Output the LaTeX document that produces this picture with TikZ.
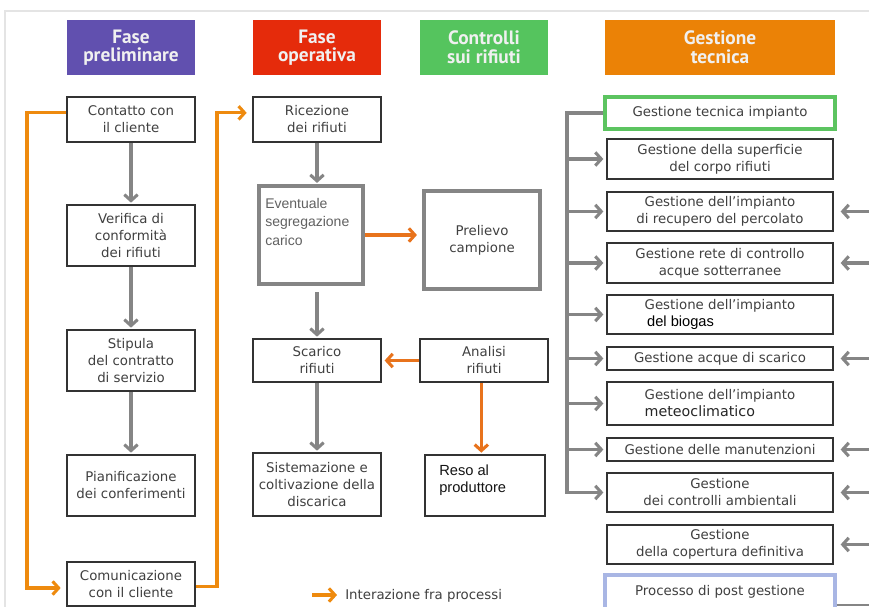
\documentclass[tikz,border=0pt]{standalone}
\usepackage{fontspec}
\setmainfont{DejaVu Sans}
\newfontfamily\hdfont{PT Sans}
\newfontfamily\arialfont{Liberation Sans}
\usetikzlibrary{arrows.meta,calc}
\definecolor{cpurple}{HTML}{6150AF}
\definecolor{cred}{HTML}{E52B0B}
\definecolor{cgreen}{HTML}{55C45E}
\definecolor{corange}{HTML}{EB8206}
\definecolor{oline}{HTML}{EE8A0E}
\definecolor{oline2}{HTML}{E8731C}
\definecolor{gline}{HTML}{858585}
\definecolor{bborder}{HTML}{333333}
\definecolor{btext}{HTML}{404040}
\definecolor{gboxc}{HTML}{5CC460}
\definecolor{pboxc}{HTML}{A9B6E4}
\definecolor{framec}{HTML}{E4E4E4}
\begin{document}
\begin{tikzpicture}[x=0.75pt,y=-0.75pt,
  rect/.style n args={4}{minimum width={(#3-#1)*0.75pt}, minimum height={(#4-#2)*0.75pt}, at={({(#1+#3)/2},{(#2+#4)/2})}},
  hdr/.style={fill=#1, draw=none, text=white!94!black, font=\hdfont\bfseries\fontsize{14.5}{14}\selectfont, align=center, inner sep=0pt},
  box/.style={draw=bborder, line width=1.5pt, fill=white, text=btext, font=\fontsize{10}{12.75}\selectfont, align=center, inner sep=0pt},
  graybox/.style={draw=gline, line width=2.6pt, fill=white, text=btext, font=\fontsize{10}{12.75}\selectfont, align=center, inner sep=0pt},
  garrow/.style={draw=gline, line width=2.3pt, line join=miter, -{Straight Barb[length=4.5pt,width=10pt]}},
  oarrow/.style={draw=oline, line width=2.3pt, line join=miter, -{Straight Barb[length=4.5pt,width=10pt]}},
  oarrowb/.style={draw=oline2, line width=2.3pt, -{Straight Barb[length=4.5pt,width=10pt]}},
  arialtxt/.style={font=\arialfont\fontsize{11}{12.5}\selectfont}
]
\useasboundingbox (0,0) rectangle (869,607);
\clip (0,0) rectangle (869,607);
\fill[white] (0,0) rectangle (869,607);
\draw[framec, line width=0.9pt] (5,607) -- (5,11) -- (869,11);

% headers
\node[hdr=cpurple, rect={67}{20}{195}{75}] (h1) {Fase\\preliminare};
\node[hdr=cred, rect={253}{20}{381}{75}] (h2) {Fase\\operativa};
\node[hdr=cgreen, rect={420}{20}{548}{75}] (h3) {Controlli\\sui rifiuti};
\node[hdr=corange, rect={605}{20}{835}{75}] (h4) {Gestione\\tecnica};

% left column
\node[box, rect={67}{97}{195}{142}] (contatto) {Contatto con\\il cliente};
\node[box, rect={67}{205}{195}{266}] (verifica) {Verifica di\\conformità\\dei rifiuti};
\node[box, rect={67}{330}{195}{391}] (stipula) {Stipula\\del contratto\\di servizio};
\node[box, rect={67}{455}{195}{516}] (pianif) {Pianificazione\\dei conferimenti};
\node[box, rect={67}{562}{195}{606}] (comunic) {Comunicazione\\con il cliente};

% middle column
\node[box, rect={253}{97}{381}{142}] (ricezione) {Ricezione\\dei rifiuti};
\node[graybox, rect={259}{186}{363}{284}] (eventuale) {};
\node[anchor=north west, inner sep=0pt, align=left, text=black!62, font=\arialfont\fontsize{10.5}{13.75}\selectfont] (evtxt) at (265,198) {Eventuale\\segregazione\\carico};
\node[box, rect={253}{339}{381}{382}] (scarico) {Scarico\\rifiuti};
\node[box, rect={253}{453}{381}{516}] (sistem) {Sistemazione e\\coltivazione della\\discarica};

% controlli column
\node[graybox, rect={424}{191}{540}{289}] (prelievo) {Prelievo\\campione};
\node[box, rect={420}{339}{548}{382}] (analisi) {Analisi\\rifiuti};
\node[box, rect={425}{455}{545}{516}] (reso) {};
\node[anchor=north west, inner sep=0pt, align=left, text=black!92, arialtxt] (resotxt) at (439,465) {Reso al\\produttore};

% gestione tecnica column
\node[box, draw=gboxc, line width=2.3pt, rect={605}{97}{835}{129}] (gti) {Gestione tecnica impianto};
\node[box, rect={607}{139}{833}{179}] (sup) {Gestione della superficie\\del corpo rifiuti};
\node[box, rect={607}{192}{833}{231}] (perc) {Gestione dell’impianto\\di recupero del percolato};
\node[box, rect={607}{243}{833}{283}] (rete) {Gestione rete di controllo\\acque sotterranee};
\node[box, align=left, rect={607}{295}{833}{334}] (biogas) {Gestione dell’impianto\\{\arialfont\fontsize{11}{13}\selectfont\color{black}\,del biogas}};
\node[box, rect={607}{347}{833}{370}] (acque) {Gestione acque di scarico};
\node[box, align=left, rect={607}{382}{833}{425}] (meteo) {Gestione dell’impianto\\{\fontsize{10.7}{14}\selectfont\color{black!85}meteoclimatico}};
\node[box, rect={607}{438}{833}{461}] (manut) {Gestione delle manutenzioni};
\node[box, rect={607}{473}{833}{512}] (ambient) {Gestione\\dei controlli ambientali};
\node[box, rect={607}{525}{833}{564}] (copert) {Gestione\\della copertura definitiva};
\node[box, draw=pboxc, line width=2.3pt, rect={605}{575}{835}{609}] (post) {Processo di post gestione};

% gray arrows left column
\draw[garrow, shorten >=1pt] (contatto.south) -- (verifica.north);
\draw[garrow, shorten >=1pt] (verifica.south) -- (stipula.north);
\draw[garrow, shorten >=1pt] (stipula.south) -- (pianif.north);

% gray arrows middle column
\draw[garrow, shorten >=1pt] (ricezione.south) -- (ricezione.south |- eventuale.north);
\draw[garrow, shorten <=5pt, shorten >=1pt] (eventuale.south -| scarico.north) -- (scarico.north);
\draw[garrow, shorten >=1pt] (scarico.south) -- (sistem.north);

% orange loops
\coordinate (lx) at (27,0);
\coordinate (rx) at (217,0);
\draw[oarrow, shorten >=4pt] ([yshift=5pt]contatto.west) -- ([yshift=5pt]contatto.west -| lx) |- ([yshift=-3pt]comunic.west);
\draw[oarrow, shorten >=4pt] ([yshift=-2pt]comunic.east) -- ([yshift=-2pt]comunic.east -| rx) |- ([yshift=5pt]ricezione.west);

% orange arrows middle
\draw[oarrowb, shorten >=4pt] (eventuale.east) -- (eventuale.east -| prelievo.west);
\draw[oarrowb, shorten >=2pt] (analisi.west) -- (scarico.east);
\draw[oarrowb, shorten >=1pt] ([xshift=-2pt]analisi.south) -- ([xshift=-2pt]analisi.south |- reso.north);

% trunk on the right
\coordinate (trunk) at (567,0);
\draw[garrow, shorten >=2pt] (gti.west) -| (ambient.west -| trunk) -- (ambient.west);
\foreach \b in {sup,perc,rete,biogas,acque,meteo,manut}
  \draw[garrow, shorten >=2pt] (\b.west -| trunk) -- (\b.west);

% incoming arrows from the right
\coordinate (redge) at (880,0);
\foreach \b in {perc,rete,acque,manut,ambient,copert}
  \draw[garrow, shorten >=5pt] (\b.east -| redge) -- (\b.east);

\coordinate (bredge) at (880,605);
\draw[gline, line width=1.5pt] (post.east |- bredge) -- (bredge);

% legend
\coordinate (legA) at (312,595);
\coordinate (legB) at (337,595);
\draw[oarrow] (legA) -- (legB);
\node[anchor=west, inner sep=0pt, text=btext, font=\fontsize{10}{12}\selectfont] (legtxt) at (345,596) {Interazione fra processi};
\end{tikzpicture}
\end{document}
